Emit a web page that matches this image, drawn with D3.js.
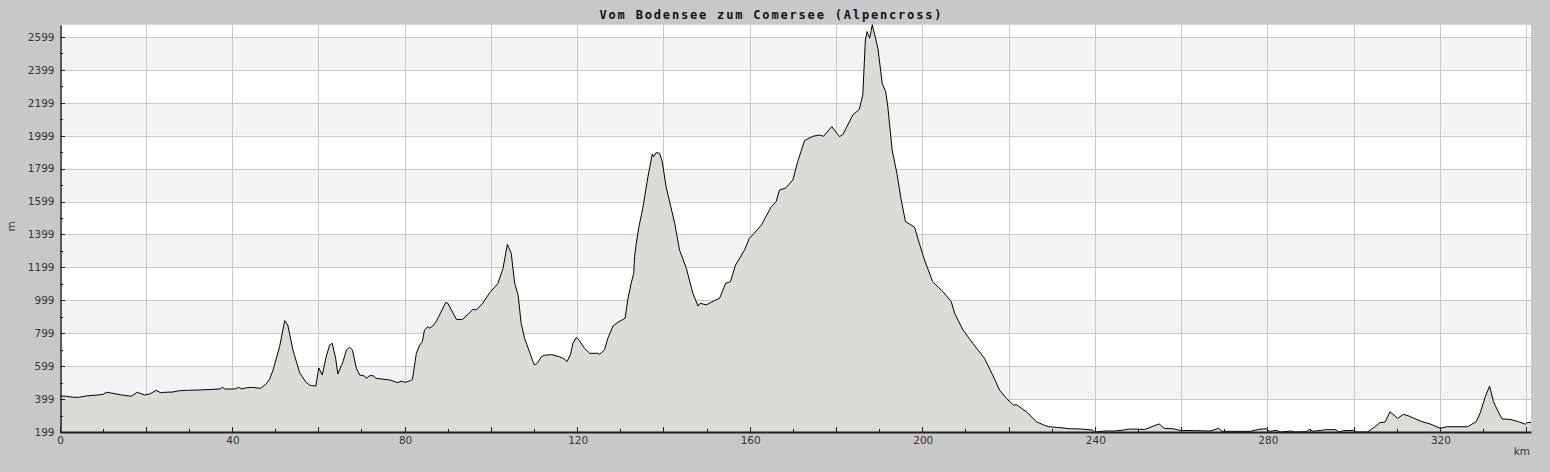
<!DOCTYPE html>
<html>
<head>
<meta charset="utf-8">
<script src="https://cdn.jsdelivr.net/npm/d3@7"></script>
<style>
  html, body { margin: 0; padding: 0; background: #c8c8c8; }
  svg { display: block; }
</style>
</head>
<body>
<svg id="chart" width="1550" height="472"></svg>
<script>
const title = "Vom Bodensee zum Comersee (Alpencross)";
const xUnit = "km";
const yUnit = "m";

const km = [0, 1.5, 3.0, 4.5, 6.1, 8.8, 10.0, 10.75, 11.9, 14.2, 16.5, 17.9, 19.6, 20.8, 22.3, 23.3, 24.3, 26.2, 27.7, 29.6,
  33.1, 37.0, 37.7, 38.2, 40.5, 41.4, 42.2, 43.2, 44.7, 46.5, 47.8, 48.6, 49.4, 50.9, 52.1, 52.8, 54.0, 55.6, 57.1, 57.9,
  59.3, 60.0, 60.8, 61.7, 62.5, 63.1, 63.9, 64.4, 65.6, 66.4, 67.1, 67.8, 68.7, 69.5, 70.6, 71.0, 71.8, 72.6, 73.3, 76.4,
  78.3, 79.1, 80.1, 81.2, 81.7, 82.6, 83.4, 84.0, 84.5, 85.3, 85.6, 86.4, 87.2, 89.4, 89.9, 91.9, 93.3, 94.6, 95.7, 96.5,
  98.0, 99.6, 101.5, 102.7, 103.7, 104.6, 105.4, 106.2, 106.9, 107.7, 108.9, 109.5, 110.0, 110.6, 111.6, 112.3, 113.9, 115.8, 117.0, 117.5,
  118.3, 118.9, 119.7, 120.4, 121.6, 122.8, 124.7, 125.1, 126.2, 127.0, 128.2, 129.3, 131.0, 131.6, 132.4, 133.0, 133.2, 133.6, 134.2, 135.1,
  136.3, 137.3, 137.6, 138.2, 139.0, 139.6, 140.5, 141.5, 142.5, 143.6, 145.2, 146.7, 147.9, 148.4, 149.8, 151.7, 152.9, 154.3, 155.4, 156.6,
  158.7, 159.8, 160.6, 162.6, 164.9, 166.0, 166.8, 168.2, 169.9, 171.0, 172.6, 174.5, 176.1, 177.0, 178.9, 180.7, 181.5, 183.8, 185.3, 186.1,
  186.7, 187.1, 187.7, 188.3, 189.6, 190.6, 191.4, 191.9, 192.9, 194.0, 195.0, 196.0, 198.1, 199.2, 200.4, 202.3, 204.7, 206.6, 207.4, 209.3,
  211.6, 214.3, 216.2, 217.8, 219.4, 221.0, 221.8, 224.3, 226.3, 228.2, 229.2, 231.2, 234.1, 236.9, 239.3, 239.9, 242.2, 244.5, 246.6, 247.9,
  251.5, 253.5, 254.8, 256.0, 258.0, 259.6, 263.3, 266.6, 268.6, 269.4, 275.9, 277.9, 279.6, 280.4, 282.0, 283.0, 285.3, 286.2, 288.9, 289.7,
  290.5, 293.4, 295.8, 296.5, 297.5, 299.9, 300.5, 303.1, 304.8, 306.0, 307.2, 308.3, 310.1, 311.4, 312.5, 315.3, 317.8, 320.0, 321.4, 326.3,
  328.3, 329.2, 330.4, 331.4, 332.3, 333.2, 334.3, 336.1, 338.1, 339.7, 340.1, 341.0];

const elevation = [418, 416, 410, 410, 418, 424, 428, 440, 436, 424, 416, 440, 424, 430, 452, 438, 440, 442, 450, 452,
  455, 460, 470, 460, 460, 470, 460, 468, 470, 464, 491, 520, 576, 717, 875, 849, 697, 556, 499, 483,
  478, 588, 545, 656, 727, 738, 647, 551, 626, 697, 714, 697, 586, 545, 539, 525, 541, 541, 525, 515,
  499, 507, 501, 511, 518, 677, 727, 748, 819, 839, 829, 843, 869, 985, 981, 883, 883, 914, 944, 940,
  981, 1045, 1100, 1193, 1339, 1285, 1102, 1031, 859, 768, 681, 636, 606, 616, 656, 665, 669, 656, 641, 626,
  667, 738, 774, 754, 707, 677, 677, 671, 697, 768, 843, 865, 890, 1001, 1102, 1163, 1264, 1345, 1446, 1558,
  1750, 1888, 1871, 1896, 1892, 1841, 1689, 1578, 1467, 1305, 1193, 1042, 964, 981, 971, 997, 1011, 1102, 1112, 1213,
  1305, 1376, 1396, 1457, 1568, 1598, 1669, 1680, 1730, 1841, 1969, 1995, 2003, 1995, 2054, 1993, 2007, 2125, 2159, 2246,
  2580, 2631, 2591, 2673, 2530, 2317, 2266, 2175, 1912, 1771, 1608, 1477, 1443, 1345, 1244, 1112, 1051, 991, 920, 819,
  738, 647, 545, 454, 403, 363, 364, 316, 262, 240, 231, 227, 219, 217, 211, 199, 205, 205, 211, 217,
  215, 235, 248, 221, 219, 209, 207, 205, 221, 203, 203, 215, 219, 203, 209, 199, 205, 199, 201, 215,
  203, 213, 213, 199, 207, 209, 199, 199, 231, 256, 260, 322, 282, 306, 298, 266, 246, 221, 231, 231,
  262, 313, 413, 478, 383, 333, 278, 276, 262, 246, 256, 258];

const xLabelTicks = [0, 40, 80, 120, 160, 200, 240, 280, 320];
const xMajorTicks = [0, 20, 40, 60, 80, 100, 120, 140, 160, 180, 200, 220, 240, 260, 280, 300, 320, 340];
const xMinorTicks = [10, 30, 50, 70, 90, 110, 130, 150, 170, 190, 210, 230, 250, 270, 290, 310, 330];
const yMajorTicks = [199, 399, 599, 799, 999, 1199, 1399, 1599, 1799, 1999, 2199, 2399, 2599];
const yMinorTicks = [299, 499, 699, 899, 1099, 1299, 1499, 1699, 1899, 2099, 2299, 2499];

const W = 1550, H = 472;
const margin = { left: 60, right: 19, top: 24.7, bottom: 40 };
const svg = d3.select("#chart");

const data = km.map((k, i) => ({ k, e: elevation[i] }));
const x = d3.scaleLinear().domain([0, d3.max(km)]).range([margin.left, W - margin.right]);
const y = d3.scaleLinear().domain([d3.min(elevation), d3.max(elevation)]).range([H - margin.bottom, margin.top]);

const fontSans = "'DejaVu Sans', sans-serif";

// title
svg.append("text")
  .attr("x", 770.5).attr("y", 19)
  .attr("text-anchor", "middle")
  .attr("font-family", "'DejaVu Sans Mono', monospace")
  .attr("font-weight", "bold")
  .attr("font-size", 12)
  .attr("textLength", 342)
  .attr("lengthAdjust", "spacing")
  .attr("fill", "#111")
  .text(title);

// plot background
const [x0, x1] = x.range();
const [yb, yt] = y.range();
svg.append("rect").attr("x", x0).attr("y", yt).attr("width", x1 - x0).attr("height", yb - yt).attr("fill", "#ffffff");

// alternating bands
const bandEdges = yMajorTicks.concat([y.domain()[1]]);
for (let i = 1; i < bandEdges.length - 1; i += 2) {
  const top = y(Math.min(bandEdges[i + 1], y.domain()[1]));
  const bot = y(bandEdges[i]);
  svg.append("rect").attr("x", x0).attr("y", top).attr("width", x1 - x0).attr("height", bot - top).attr("fill", "#f3f2f5");
}

// grid
const grid = svg.append("g").attr("stroke", "#c9c9c9").attr("stroke-width", 1);
grid.selectAll("line.h").data(yMajorTicks.slice(1)).join("line")
  .attr("x1", x0).attr("x2", x1)
  .attr("y1", d => Math.round(y(d)) + 0.5).attr("y2", d => Math.round(y(d)) + 0.5);
grid.selectAll("line.v").data(xMajorTicks.slice(1)).join("line")
  .attr("y1", yt).attr("y2", yb)
  .attr("x1", d => Math.floor(x(d)) + 0.5).attr("x2", d => Math.floor(x(d)) + 0.5);

// area + line
const area = d3.area().x(d => x(d.k)).y0(yb).y1(d => y(d.e));
const line = d3.line().x(d => x(d.k)).y(d => y(d.e));
svg.append("path").datum(data).attr("d", area).attr("fill", "#dcdbd6");
svg.append("path").datum(data).attr("d", line).attr("fill", "none").attr("stroke", "#000").attr("stroke-width", 1);

// axes
const axisColor = "#222";
const xAxis = svg.append("g").attr("transform", `translate(0,${yb})`)
  .call(d3.axisBottom(x).tickValues(xLabelTicks).tickSize(0).tickSizeOuter(0).tickPadding(5).tickFormat(d3.format("d")));
xAxis.select(".domain").attr("stroke", axisColor).attr("stroke-width", 2);
xAxis.selectAll("text").attr("font-family", fontSans).attr("font-size", 10.5).attr("fill", "#333");

const xt = svg.append("g").attr("stroke", axisColor);
xt.selectAll("line.maj").data(xMajorTicks).join("line")
  .attr("x1", d => Math.floor(x(d)) + 0.5).attr("x2", d => Math.floor(x(d)) + 0.5)
  .attr("y1", yb).attr("y2", yb - 5);
xt.selectAll("line.min").data(xMinorTicks).join("line")
  .attr("x1", d => Math.floor(x(d)) + 0.5).attr("x2", d => Math.floor(x(d)) + 0.5)
  .attr("y1", yb).attr("y2", yb - 3);

const yAxis = svg.append("g").attr("transform", `translate(${x0 + 0.5},0)`)
  .call(d3.axisLeft(y).tickValues(yMajorTicks).tickSize(0).tickSizeOuter(0).tickPadding(6).tickFormat(d3.format("d")));
yAxis.select(".domain").attr("stroke", axisColor).attr("stroke-width", 1.5);
yAxis.selectAll("text").attr("font-family", fontSans).attr("font-size", 10.5).attr("fill", "#333");

const ytk = svg.append("g").attr("stroke", axisColor);
ytk.selectAll("line.maj").data(yMajorTicks).join("line")
  .attr("y1", d => Math.round(y(d)) + 0.5).attr("y2", d => Math.round(y(d)) + 0.5)
  .attr("x1", x0).attr("x2", x0 + 5);
ytk.selectAll("line.min").data(yMinorTicks).join("line")
  .attr("y1", d => Math.round(y(d)) + 0.5).attr("y2", d => Math.round(y(d)) + 0.5)
  .attr("x1", x0).attr("x2", x0 + 3);

// unit labels
svg.append("text").attr("x", 1530).attr("y", 455).attr("text-anchor", "end")
  .attr("font-family", fontSans).attr("font-size", 10.5).attr("fill", "#333").text(xUnit);
svg.append("text").attr("transform", "translate(15,226.5) rotate(-90)").attr("text-anchor", "middle")
  .attr("font-family", fontSans).attr("font-size", 10.5).attr("fill", "#333").text(yUnit);
</script>
</body>
</html>
